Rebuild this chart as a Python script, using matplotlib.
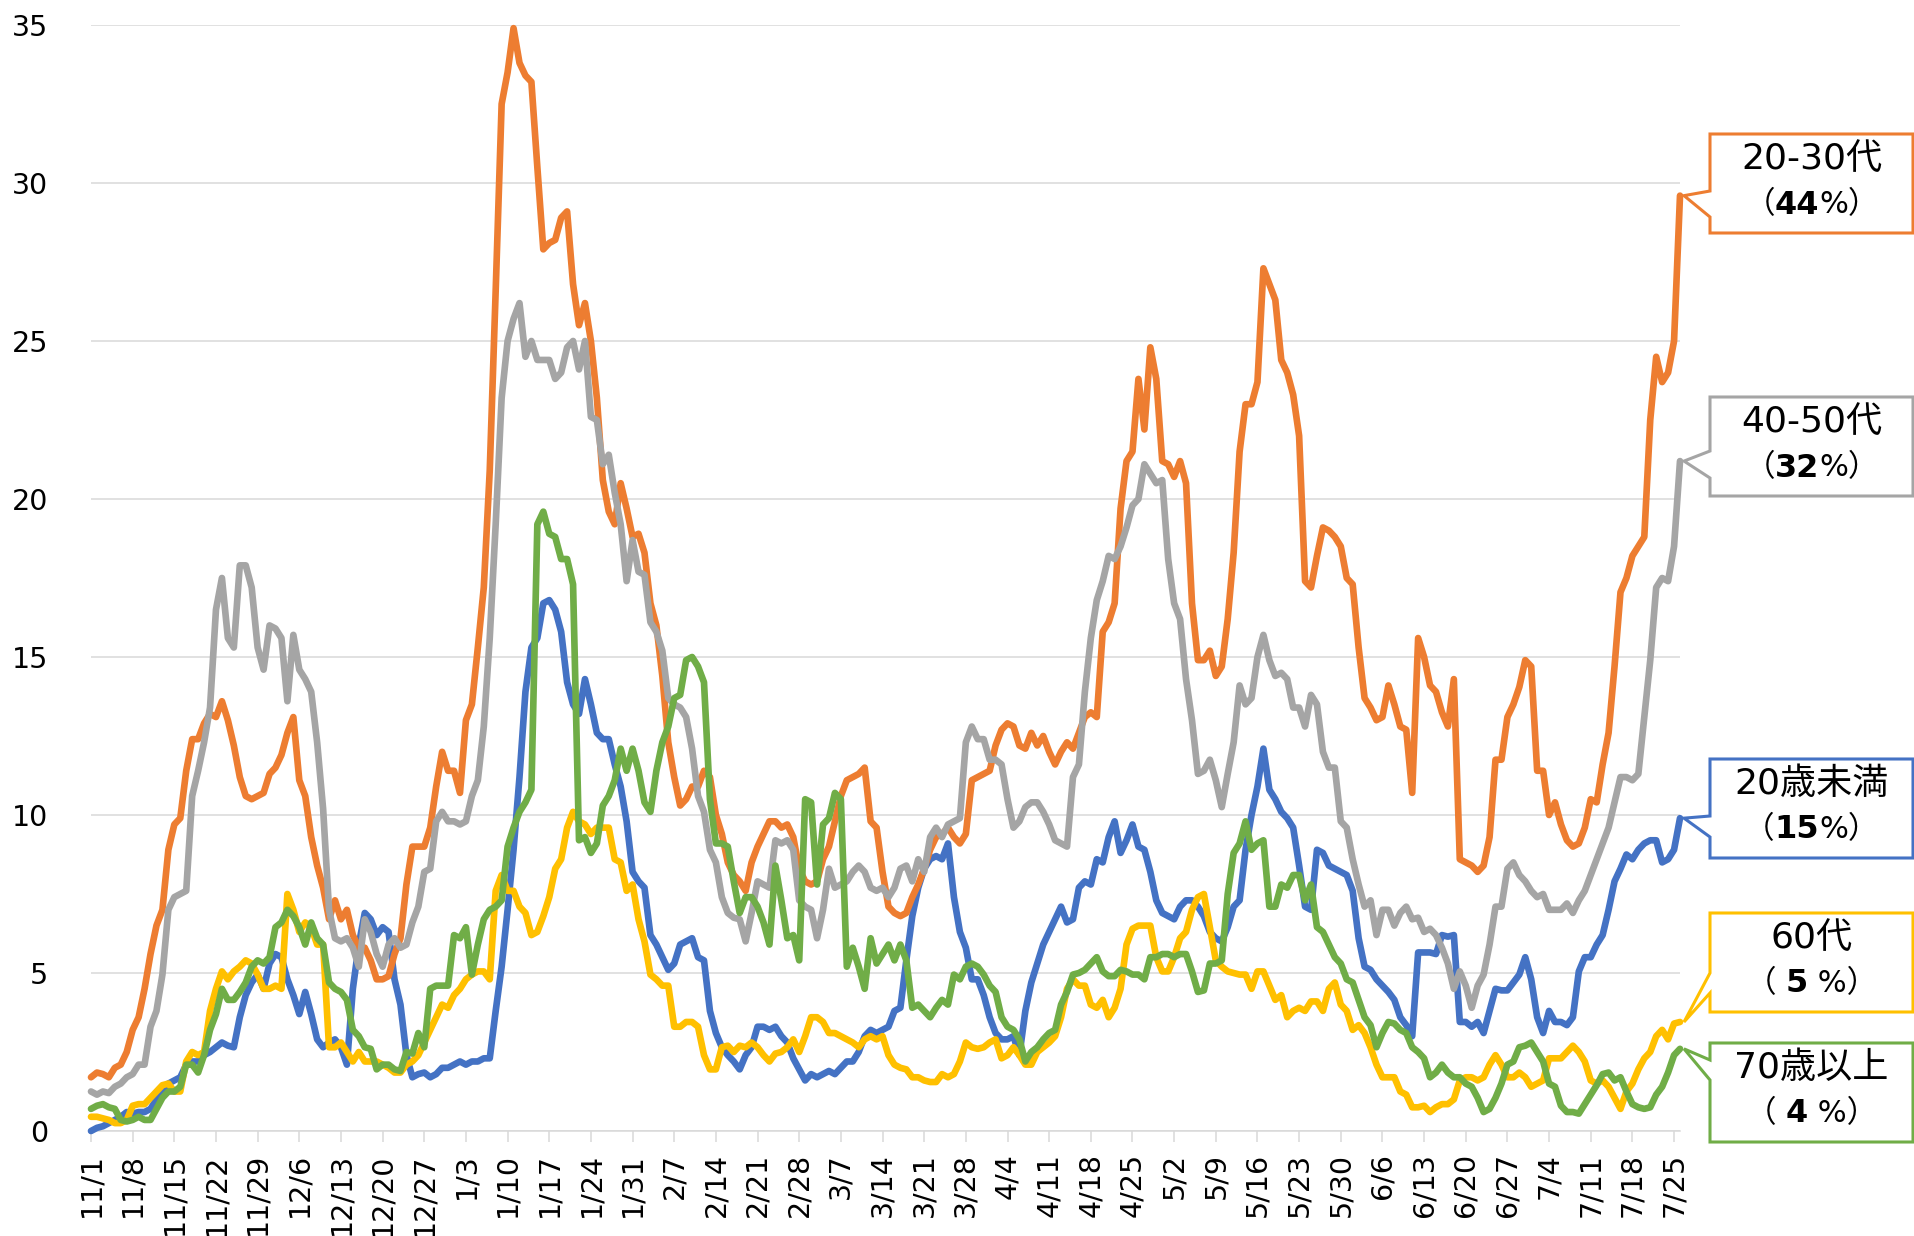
import matplotlib
matplotlib.use("Agg")
import matplotlib.pyplot as plt
from matplotlib.patches import Polygon
from matplotlib.offsetbox import TextArea, HPacker, AnnotationBbox
import numpy as np
import pandas as pd

FONTS = ["DejaVu Sans", "Noto Sans CJK JP"]
plt.rcParams["font.family"] = FONTS

# daily values, 2020-11-01 .. 2021-07-26
dates = pd.date_range("2020-11-01", "2021-07-26", freq="D")

under20 = [
    0.0, 0.1, 0.15, 0.25, 0.35, 0.45, 0.6, 0.55, 0.6, 0.6, 0.7, 1.0, 1.3, 1.5, 1.6, 1.7, 2.1, 2.2, 2.2, 2.4,
    2.5, 2.65, 2.8, 2.7, 2.65, 3.6, 4.3, 4.7, 4.95, 4.5, 5.3, 5.6, 5.5, 4.8, 4.3, 3.7, 4.4, 3.7, 2.9, 2.65,
    2.8, 2.9, 2.65, 2.1, 4.5, 5.9, 6.9, 6.7, 6.2, 6.45, 6.3, 4.8,
    4.0, 2.4, 1.7, 1.8, 1.85, 1.7, 1.8, 2.0, 2.0, 2.1, 2.2, 2.1, 2.2, 2.2, 2.3, 2.3, 3.8, 5.2, 7.0, 8.9,
    11.2, 13.9, 15.3, 15.6, 16.7, 16.8, 16.5, 15.8, 14.2, 13.5, 13.2, 14.3, 13.5, 12.6, 12.4, 12.4, 11.6, 10.9,
    9.8, 8.2, 7.9, 7.7, 6.2, 5.9, 5.5, 5.1, 5.3, 5.9, 6.0, 6.1, 5.5, 5.4, 3.8,
    3.1, 2.65, 2.4, 2.2, 1.95, 2.4, 2.65, 3.3, 3.3, 3.2, 3.3, 3.0, 2.8, 2.3, 1.95, 1.6, 1.8, 1.7, 1.8, 1.9,
    1.8, 2.0, 2.2, 2.2, 2.5, 3.0, 3.2, 3.1, 3.2, 3.3, 3.8, 3.9, 5.4, 6.8, 7.7, 8.3, 8.6, 8.7, 8.6, 9.1,
    7.4, 6.3, 5.8, 4.8, 4.8, 4.3, 3.6, 3.1, 2.9, 2.9, 3.0, 2.4,
    3.8, 4.7, 5.3, 5.9, 6.3, 6.7, 7.1, 6.6, 6.7, 7.7, 7.9, 7.8, 8.6, 8.5, 9.3, 9.8, 8.8, 9.2, 9.7, 9.0,
    8.9, 8.2, 7.3, 6.9, 6.8, 6.7, 7.1, 7.3, 7.3, 7.1, 6.8, 6.3, 6.1, 6.0, 6.45, 7.1, 7.3, 8.9, 10.0, 10.9,
    12.1, 10.8, 10.5, 10.1, 9.9, 9.6, 8.4, 7.1, 7.0, 8.9, 8.8, 8.4,
    8.3, 8.2, 8.1, 7.6, 6.1, 5.2, 5.1, 4.8, 4.6, 4.4, 4.15, 3.6, 3.35, 3.0, 5.65, 5.65, 5.65, 5.6, 6.2, 6.15,
    6.2, 3.45, 3.45, 3.3, 3.45, 3.1, 3.8, 4.5, 4.45, 4.45, 4.7, 4.95, 5.5, 4.8, 3.6, 3.1, 3.8, 3.45, 3.45, 3.35,
    3.6, 5.05, 5.5, 5.5, 5.9, 6.2, 7.0, 7.9, 8.3, 8.75, 8.6, 8.9, 9.1, 9.2, 9.2, 8.5, 8.6, 8.9, 9.9,
]

age20_30 = [
    1.7, 1.85, 1.8, 1.7, 2.0, 2.1, 2.5, 3.2, 3.6, 4.5, 5.6, 6.5, 7.0, 8.9, 9.7, 9.9, 11.4, 12.4, 12.4, 12.9,
    13.2, 13.1, 13.6, 13.0, 12.2, 11.2, 10.6, 10.5, 10.6, 10.7, 11.3, 11.5, 11.9, 12.6, 13.1, 11.1, 10.6, 9.3, 8.4, 7.7,
    6.7, 7.3, 6.7, 7.0, 6.2, 5.8, 5.8, 5.4, 4.8, 4.8, 4.9, 5.6,
    6.1, 7.8, 9.0, 9.0, 9.0, 9.6, 10.9, 12.0, 11.4, 11.4, 10.7, 13.0, 13.5, 15.3, 17.2, 20.9, 26.6, 32.5, 33.5, 34.9,
    33.8, 33.4, 33.2, 30.5, 27.9, 28.1, 28.2, 28.9, 29.1, 26.8, 25.5, 26.2, 25.0, 23.2, 20.6, 19.6, 19.2, 20.5, 19.7, 18.8,
    18.9, 18.3, 16.7, 16.0, 14.4, 12.3, 11.2, 10.3, 10.5, 10.9, 10.9, 11.4, 11.2,
    10.0, 9.4, 8.5, 8.1, 7.9, 7.6, 8.5, 9.0, 9.4, 9.8, 9.8, 9.6, 9.7, 9.3, 8.3, 7.9, 7.8, 7.9, 8.6, 9.0,
    9.8, 10.6, 11.1, 11.2, 11.3, 11.5, 9.8, 9.6, 8.2, 7.1, 6.9, 6.8, 6.9, 7.4, 7.8, 8.3, 8.9, 9.3, 9.4, 9.6,
    9.3, 9.1, 9.4, 11.1, 11.2, 11.3, 11.4, 12.2, 12.7, 12.9, 12.8, 12.2,
    12.1, 12.6, 12.2, 12.5, 12.0, 11.6, 12.0, 12.3, 12.1, 12.6, 13.1, 13.25, 13.1, 15.8, 16.1, 16.7, 19.7, 21.2, 21.5, 23.8,
    22.2, 24.8, 23.8, 21.2, 21.1, 20.7, 21.2, 20.5, 16.7, 14.9, 14.9, 15.2, 14.4, 14.7, 16.2, 18.3, 21.5, 23.0, 23.0, 23.7,
    27.3, 26.8, 26.3, 24.4, 24.0, 23.3, 22.0, 17.4, 17.2, 18.2, 19.1, 19.0,
    18.8, 18.5, 17.5, 17.3, 15.3, 13.7, 13.4, 13.0, 13.1, 14.1, 13.5, 12.8, 12.7, 10.7, 15.6, 15.0, 14.1, 13.9, 13.25, 12.8,
    14.3, 8.6, 8.5, 8.4, 8.2, 8.4, 9.3, 11.75, 11.75, 13.1, 13.5, 14.05, 14.9, 14.7, 11.4, 11.4, 10.0, 10.4, 9.7, 9.2,
    9.0, 9.1, 9.6, 10.5, 10.4, 11.6, 12.6, 14.7, 17.05, 17.5, 18.2, 18.5, 18.8, 22.5, 24.5, 23.7, 24.0, 25.0, 29.6,
]

age40_50 = [
    1.25, 1.15, 1.25, 1.2, 1.4, 1.5, 1.7, 1.8, 2.1, 2.1, 3.3, 3.8, 4.95, 7.0, 7.4, 7.5, 7.6, 10.6, 11.4, 12.3,
    13.4, 16.5, 17.5, 15.6, 15.3, 17.9, 17.9, 17.2, 15.3, 14.6, 16.0, 15.9, 15.6, 13.6, 15.7, 14.6, 14.3, 13.9, 12.3, 10.2,
    7.0, 6.1, 6.0, 6.1, 5.8, 5.2, 6.7, 6.3, 5.6, 5.2, 5.9, 6.1,
    5.8, 5.9, 6.6, 7.1, 8.2, 8.3, 9.8, 10.1, 9.8, 9.8, 9.7, 9.8, 10.6, 11.1, 12.8, 15.6, 19.2, 23.2, 25.0, 25.7,
    26.2, 24.5, 25.0, 24.4, 24.4, 24.4, 23.8, 24.0, 24.8, 25.0, 24.1, 25.0, 22.6, 22.5, 21.1, 21.4, 20.2, 19.2, 17.4, 18.7,
    17.7, 17.6, 16.1, 15.8, 15.2, 13.7, 13.5, 13.4, 13.1, 12.1, 10.6, 10.1, 8.9,
    8.5, 7.4, 6.9, 6.75, 6.7, 6.0, 6.9, 7.9, 7.8, 7.7, 9.2, 9.1, 9.2, 8.9, 7.3, 7.1, 7.0, 6.1, 7.0, 8.3,
    7.7, 7.8, 7.9, 8.2, 8.4, 8.2, 7.7, 7.6, 7.7, 7.4, 7.7, 8.3, 8.4, 7.9, 8.6, 8.2, 9.3, 9.6, 9.3, 9.7,
    9.8, 9.9, 12.3, 12.8, 12.4, 12.4, 11.75, 11.75, 11.6, 10.5, 9.6, 9.8,
    10.25, 10.4, 10.4, 10.1, 9.7, 9.2, 9.1, 9.0, 11.2, 11.6, 13.9, 15.6, 16.8, 17.4, 18.2, 18.1, 18.5, 19.1, 19.8, 20.0,
    21.1, 20.8, 20.5, 20.6, 18.1, 16.7, 16.2, 14.3, 13.0, 11.3, 11.4, 11.75, 11.1, 10.25, 11.3, 12.3, 14.1, 13.5, 13.7, 15.0,
    15.7, 14.9, 14.4, 14.5, 14.3, 13.4, 13.4, 12.8, 13.8, 13.5, 12.0, 11.5,
    11.5, 9.8, 9.6, 8.6, 7.8, 7.1, 7.3, 6.2, 7.0, 7.0, 6.5, 6.9, 7.1, 6.7, 6.75, 6.3, 6.4, 6.2, 5.8, 5.3,
    4.5, 5.05, 4.6, 3.9, 4.6, 4.95, 5.9, 7.1, 7.1, 8.3, 8.5, 8.1, 7.9, 7.6, 7.4, 7.5, 7.0, 7.0, 7.0, 7.2,
    6.9, 7.3, 7.6, 8.1, 8.6, 9.1, 9.6, 10.4, 11.2, 11.2, 11.1, 11.3, 13.1, 14.9, 17.2, 17.5, 17.4, 18.5, 21.2,
]

age60 = [
    0.45, 0.45, 0.4, 0.35, 0.25, 0.25, 0.35, 0.8, 0.85, 0.85, 1.05, 1.25, 1.45, 1.5, 1.25, 1.25, 2.2, 2.5, 2.4, 2.5,
    3.8, 4.5, 5.05, 4.8, 5.05, 5.2, 5.4, 5.3, 4.95, 4.5, 4.5, 4.6, 4.5, 7.5, 7.0, 6.3, 6.6, 6.45, 5.9, 5.9,
    2.65, 2.65, 2.8, 2.5, 2.2, 2.5, 2.2, 2.2, 2.2, 2.1, 2.0, 1.85,
    1.85, 2.1, 2.2, 2.4, 2.8, 3.2, 3.6, 4.0, 3.9, 4.3, 4.5, 4.8, 4.95, 5.05, 5.05, 4.8, 7.6, 8.1, 7.6, 7.6,
    7.1, 6.9, 6.2, 6.3, 6.8, 7.4, 8.3, 8.6, 9.6, 10.1, 9.8, 9.7, 9.4, 9.6, 9.6, 9.6, 8.6, 8.5, 7.6, 7.8,
    6.7, 6.0, 4.95, 4.8, 4.6, 4.6, 3.3, 3.3, 3.45, 3.45, 3.3, 2.4, 1.95,
    1.95, 2.65, 2.7, 2.5, 2.7, 2.65, 2.8, 2.65, 2.4, 2.2, 2.45, 2.5, 2.65, 2.9, 2.5, 3.0, 3.6, 3.6, 3.45, 3.1,
    3.1, 3.0, 2.9, 2.8, 2.65, 2.9, 3.0, 2.9, 3.0, 2.4, 2.1, 2.0, 1.95, 1.7, 1.7, 1.6, 1.55, 1.55, 1.8, 1.7,
    1.8, 2.2, 2.8, 2.65, 2.6, 2.65, 2.8, 2.9, 2.3, 2.4, 2.65, 2.4,
    2.1, 2.1, 2.5, 2.65, 2.8, 3.0, 3.6, 4.5, 4.8, 4.6, 4.6, 4.0, 3.9, 4.15, 3.6, 3.9, 4.5, 5.9, 6.4, 6.5,
    6.5, 6.5, 5.5, 5.05, 5.05, 5.5, 6.1, 6.3, 7.0, 7.4, 7.5, 6.45, 5.4, 5.2, 5.05, 5.0, 4.95, 4.95, 4.5, 5.05,
    5.05, 4.6, 4.15, 4.3, 3.6, 3.8, 3.9, 3.8, 4.1, 4.1, 3.8, 4.5,
    4.7, 4.0, 3.8, 3.2, 3.35, 3.1, 2.65, 2.1, 1.7, 1.7, 1.7, 1.25, 1.15, 0.75, 0.75, 0.8, 0.6, 0.75, 0.85, 0.85,
    1.0, 1.6, 1.7, 1.7, 1.6, 1.7, 2.1, 2.4, 2.1, 1.7, 1.7, 1.85, 1.7, 1.4, 1.5, 1.6, 2.3, 2.3, 2.3, 2.5,
    2.7, 2.5, 2.2, 1.6, 1.5, 1.6, 1.4, 1.05, 0.7, 1.25, 1.5, 1.95, 2.3, 2.5, 3.0, 3.2, 2.9, 3.4, 3.45,
]

over70 = [
    0.7, 0.8, 0.85, 0.75, 0.7, 0.35, 0.3, 0.35, 0.45, 0.35, 0.35, 0.7, 1.05, 1.25, 1.25, 1.4, 2.1, 2.1, 1.85, 2.4,
    3.2, 3.7, 4.5, 4.15, 4.15, 4.4, 4.7, 5.2, 5.4, 5.3, 5.5, 6.45, 6.6, 7.0, 6.8, 6.45, 5.9, 6.6, 6.1, 5.9,
    4.7, 4.5, 4.4, 4.15, 3.2, 3.0, 2.65, 2.6, 1.95, 2.1, 2.1, 1.95,
    1.9, 2.5, 2.45, 3.1, 2.65, 4.5, 4.6, 4.6, 4.6, 6.2, 6.1, 6.45, 4.95, 5.9, 6.7, 7.0, 7.1, 7.3, 9.0, 9.6,
    10.1, 10.4, 10.8, 19.2, 19.6, 18.9, 18.8, 18.1, 18.1, 17.3, 9.2, 9.3, 8.8, 9.1, 10.3, 10.6, 11.1, 12.1, 11.4, 12.1,
    11.4, 10.4, 10.1, 11.4, 12.3, 12.8, 13.7, 13.8, 14.9, 15.0, 14.7, 14.2, 10.5,
    9.1, 9.1, 9.0, 7.9, 6.9, 7.4, 7.4, 7.1, 6.6, 5.9, 8.4, 7.3, 6.1, 6.2, 5.4, 10.5, 10.4, 7.8, 9.7, 9.9,
    10.7, 10.5, 5.2, 5.8, 5.2, 4.5, 6.1, 5.3, 5.6, 5.9, 5.4, 5.9, 5.4, 3.9, 4.0, 3.8, 3.6, 3.9, 4.15, 4.0,
    4.95, 4.8, 5.2, 5.3, 5.2, 4.95, 4.6, 4.4, 3.6, 3.3, 3.2, 2.9,
    2.2, 2.5, 2.65, 2.9, 3.1, 3.2, 4.0, 4.4, 4.95, 5.0, 5.1, 5.3, 5.5, 5.05, 4.9, 4.9, 5.1, 5.05, 4.95, 4.95,
    4.8, 5.5, 5.5, 5.6, 5.6, 5.5, 5.6, 5.6, 5.05, 4.4, 4.45, 5.3, 5.3, 5.4, 7.5, 8.8, 9.1, 9.8, 8.9, 9.1,
    9.2, 7.1, 7.1, 7.8, 7.7, 8.1, 8.1, 7.3, 7.8, 6.45, 6.3, 5.9,
    5.5, 5.3, 4.8, 4.7, 4.15, 3.6, 3.35, 2.65, 3.1, 3.45, 3.4, 3.2, 3.1, 2.65, 2.5, 2.3, 1.7, 1.85, 2.1, 1.85,
    1.7, 1.7, 1.5, 1.4, 1.05, 0.6, 0.7, 1.05, 1.5, 2.1, 2.2, 2.65, 2.7, 2.8, 2.5, 2.2, 1.5, 1.4, 0.8, 0.6,
    0.6, 0.55, 0.85, 1.15, 1.45, 1.8, 1.85, 1.6, 1.7, 1.25, 0.85, 0.75, 0.7, 0.75, 1.15, 1.4, 1.85, 2.4, 2.6,
]

# drawing order follows the original series order (blue first, green on top)
series = [under20, age20_30, age40_50, age60, over70]
colors = ["#4472C4", "#ED7D31", "#A5A5A5", "#FFC000", "#70AD47"]
names = ["20歳未満", "20-30代", "40-50代", "60代", "70歳以上"]
shares = ["15", "44", "32", "5", "4"]

W, H = 1915, 1236
fig = plt.figure(figsize=(W / 100, H / 100), dpi=100)
ax = fig.add_axes([91 / W, 1 - 1131 / H, 1589 / W, (1131 - 25) / H])

x = np.arange(len(dates))
for i, (vals, c) in enumerate(zip(series, colors)):
    ax.plot(x, vals, color=c, lw=4.8, solid_joinstyle="round", solid_capstyle="round",
            clip_on=False, zorder=3 + i)

ax.set_xlim(0, len(dates) - 1)
ax.set_ylim(0, 35)
ax.set_yticks(range(0, 36, 5))
ax.grid(axis="y", color="#D9D9D9", lw=1.1)
ax.set_axisbelow(True)
for s in ["top", "right", "left"]:
    ax.spines[s].set_visible(False)
ax.spines["bottom"].set_color("#D9D9D9")
ax.spines["bottom"].set_linewidth(1.1)

ax.set_xticks(x[::7], [f"{d.month}/{d.day}" for d in dates[::7]], rotation=90)
ax.tick_params(axis="x", length=8, width=1.1, color="#D9D9D9", labelsize=20.5, pad=8)
ax.tick_params(axis="y", length=0, labelsize=20.5, pad=31)

# callout boxes at the right (pixel layout, origin top-left)
box_left, box_right, box_h = 1710, 1913, 99
box_top = {"20-30代": 134, "40-50代": 397, "20歳未満": 759, "60代": 913, "70歳以上": 1043}
wedge = {"20-30代": (57, 83), "40-50代": (54, 81), "20歳未満": (57, 78), "60代": (60, 80), "70歳以上": (17, 37)}
cx = (box_left + box_right) / 2


def ff(px, py):
    return px / W, 1 - py / H


for vals, c, name, share in zip(series, colors, names, shares):
    top = box_top[name]
    bot = top + box_h
    w1, w2 = wedge[name]
    tx, ty = ax.transData.transform((x[-1], vals[-1]))
    tip = (tx + 4, H - ty)
    verts = [(box_left, top), (box_right, top), (box_right, bot), (box_left, bot),
             (box_left, top + w2), tip, (box_left, top + w1)]
    poly = Polygon([ff(*v) for v in verts], closed=True, transform=fig.transFigure,
                   facecolor="white", edgecolor=c, lw=2.2, zorder=10)
    fig.add_artist(poly)

    fig.text(*ff(cx, top + 25), name, ha="center", va="center", fontsize=26,
             color="black", zorder=11)
    gap = " " if len(share) == 1 else ""
    parts = [TextArea("（" + gap, textprops=dict(fontsize=22, color="black")),
             TextArea(share, textprops=dict(fontsize=23, fontweight="bold", color="black")),
             TextArea(gap + "%）", textprops=dict(fontsize=22, color="black"))]
    row = HPacker(children=parts, align="baseline", pad=0, sep=0)
    ab = AnnotationBbox(row, ff(cx, top + 71), xycoords="figure fraction", frameon=False,
                        box_alignment=(0.5, 0.5), pad=0, zorder=11)
    fig.add_artist(ab)

fig.savefig("out.png", dpi=100)
